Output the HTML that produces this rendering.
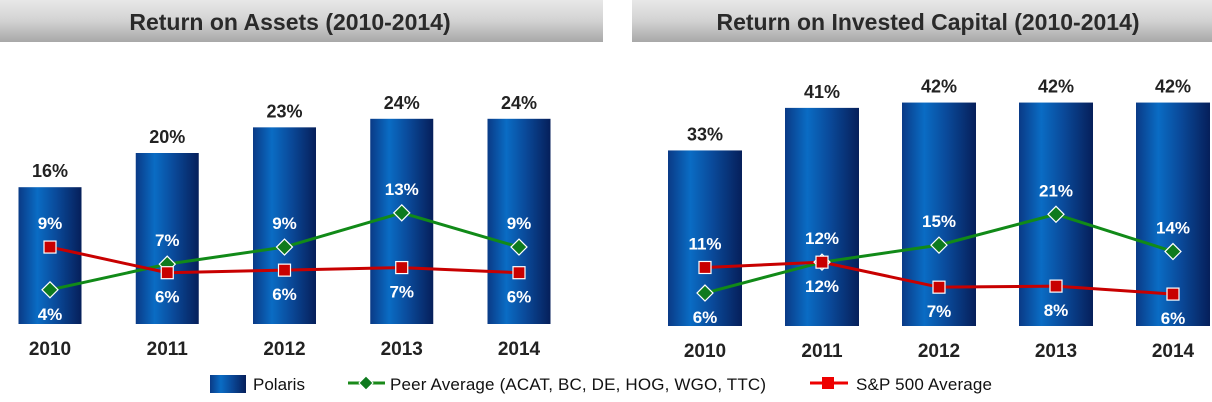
<!DOCTYPE html>
<html><head><meta charset="utf-8">
<style>
body{margin:0;background:#fff;}
svg{display:block;font-family:"Liberation Sans",Arial,sans-serif;}
</style></head>
<body>
<svg id="chart" width="1212" height="402" viewBox="0 0 1212 402" xmlns="http://www.w3.org/2000/svg">
<defs>
<linearGradient id="barG" x1="0" x2="1" y1="0" y2="0">
<stop offset="0" stop-color="#0a3a86"/><stop offset="0.3" stop-color="#0a6cc4"/><stop offset="0.6" stop-color="#0a4a9a"/><stop offset="1" stop-color="#061f5a"/>
</linearGradient>
<linearGradient id="titleG" x1="0" x2="0" y1="0" y2="1">
<stop offset="0" stop-color="#e8e8e8"/><stop offset="0.5" stop-color="#d2d2d2"/><stop offset="1" stop-color="#a8a8a8"/>
</linearGradient>
</defs>
<rect x="0" y="0" width="603" height="42" fill="url(#titleG)"/>
<rect x="632" y="0" width="580" height="42" fill="url(#titleG)"/>
<text x="290" y="30" text-anchor="middle" font-size="23" font-weight="bold" fill="#2a2a2a">Return on Assets  (2010-2014)</text>
<text x="928" y="30" text-anchor="middle" font-size="23" font-weight="bold" fill="#2a2a2a">Return on Invested Capital (2010-2014)</text>
<g id="plots"></g>
<g>
<rect x="210" y="375" width="36" height="18" fill="url(#barG)"/>
<text x="253" y="390" font-size="17" fill="#111">Polaris</text>
<line x1="348" y1="383" x2="385" y2="383" stroke="#1a8a1a" stroke-width="3"/>
<polygon points="366,376 373,383 366,390 359,383" fill="#0e7a1e" stroke="#fff"/>
<text x="390" y="390" font-size="17" fill="#111" textLength="376">Peer Average  (ACAT, BC, DE, HOG, WGO, TTC)</text>
<line x1="810" y1="383" x2="848" y2="383" stroke="#e00" stroke-width="3"/>
<rect x="822" y="377" width="12" height="12" fill="#e00"/>
<text x="856" y="390" font-size="17" fill="#111" textLength="136">S&amp;P 500 Average</text>
</g>
</svg>
<script>
const years = ["2010","2011","2012","2013","2014"];
const roaPolaris = [16,20,23,24,24];
const roaPeer = [4,7,9,13,9];
const roaSp = [9,6,6.3,6.6,6];
const roaSpLabels = ["9%","6%","6%","7%","6%"];
const roicPolaris = [33,41,42,42,42];
const roicPeer = [6.2,12,15.2,21,14];
const roicSp = [11,12,7.3,7.5,6];
const roicSpLabels = ["11%","12%","7%","8%","6%"];

const NS="http://www.w3.org/2000/svg";
const root=document.getElementById('plots');
function mk(tag,attrs,parent){const e=document.createElementNS(NS,tag);for(const k in attrs)e.setAttribute(k,attrs[k]);(parent||root).appendChild(e);return e;}

function drawChart(cfg){
  const g=mk('g',{});
  
  
  const y=v=>cfg.base-v*cfg.scale;
  const x=i=>cfg.x0+i*cfg.step;
  years.forEach((yr,i)=>{
    const r=mk('rect',{x:x(i)-cfg.bw/2,y:y(cfg.pol[i]),width:cfg.bw,height:cfg.base-y(cfg.pol[i]),fill:'url(#barG)'},g);
    
    
    const t=mk('text',{x:x(i),y:y(cfg.pol[i])-10,'text-anchor':'middle','font-size':18,'font-weight':'bold',fill:'#222'},g);
    t.textContent=cfg.pol[i]+'%';
    
    
    const yl=mk('text',{x:x(i),y:cfg.base+31,'text-anchor':'middle','font-size':19,'font-weight':'bold',fill:'#222'},g);
    yl.textContent=yr;
    
    
  });
  const ptsS=cfg.sp.map((v,i)=>x(i)+','+y(v)).join(' ');
  const ptsP=cfg.peer.map((v,i)=>x(i)+','+y(v)).join(' ');
  const lp=mk('polyline',{points:ptsP,fill:'none',stroke:'#118a18','stroke-width':3},g);
  
  
  const ls=mk('polyline',{points:ptsS,fill:'none',stroke:'#c80000','stroke-width':3},g);
  
  
  years.forEach((yr,i)=>{
    const px=x(i),py=y(cfg.peer[i]),sy=y(cfg.sp[i]);
    const d=mk('polygon',{points:`${px},${py-8} ${px+8},${py} ${px},${py+8} ${px-8},${py}`,fill:'#0e7a1e',stroke:'#fff','stroke-width':1.2},g);
    
    
    const s=mk('rect',{x:px-6,y:sy-6,width:12,height:12,fill:'#c80000',stroke:'#fff','stroke-width':1.2},g);
    
    
    let pLy, sLy;
    if(cfg.peer[i]<cfg.sp[i]){pLy=py+30;sLy=sy-18;}
    else {pLy=py-18;sLy=sy+30;}
    const pt=mk('text',{x:px,y:pLy,'text-anchor':'middle','font-size':17,'font-weight':'bold',fill:'#fff'},g);
    pt.textContent=Math.round(cfg.peer[i])+'%';
    
    
    const st=mk('text',{x:px,y:sLy,'text-anchor':'middle','font-size':17,'font-weight':'bold',fill:'#fff'},g);
    st.textContent=cfg.spl[i];
    
    
  });
}
drawChart({name:'roa-chart',pol:roaPolaris,peer:roaPeer,sp:roaSp,spl:roaSpLabels,base:324,scale:8.55,x0:50,step:117.25,bw:63});
drawChart({name:'roic-chart',pol:roicPolaris,peer:roicPeer,sp:roicSp,spl:roicSpLabels,base:326,scale:5.32,x0:705,step:117,bw:74});
</script>
</body></html>
